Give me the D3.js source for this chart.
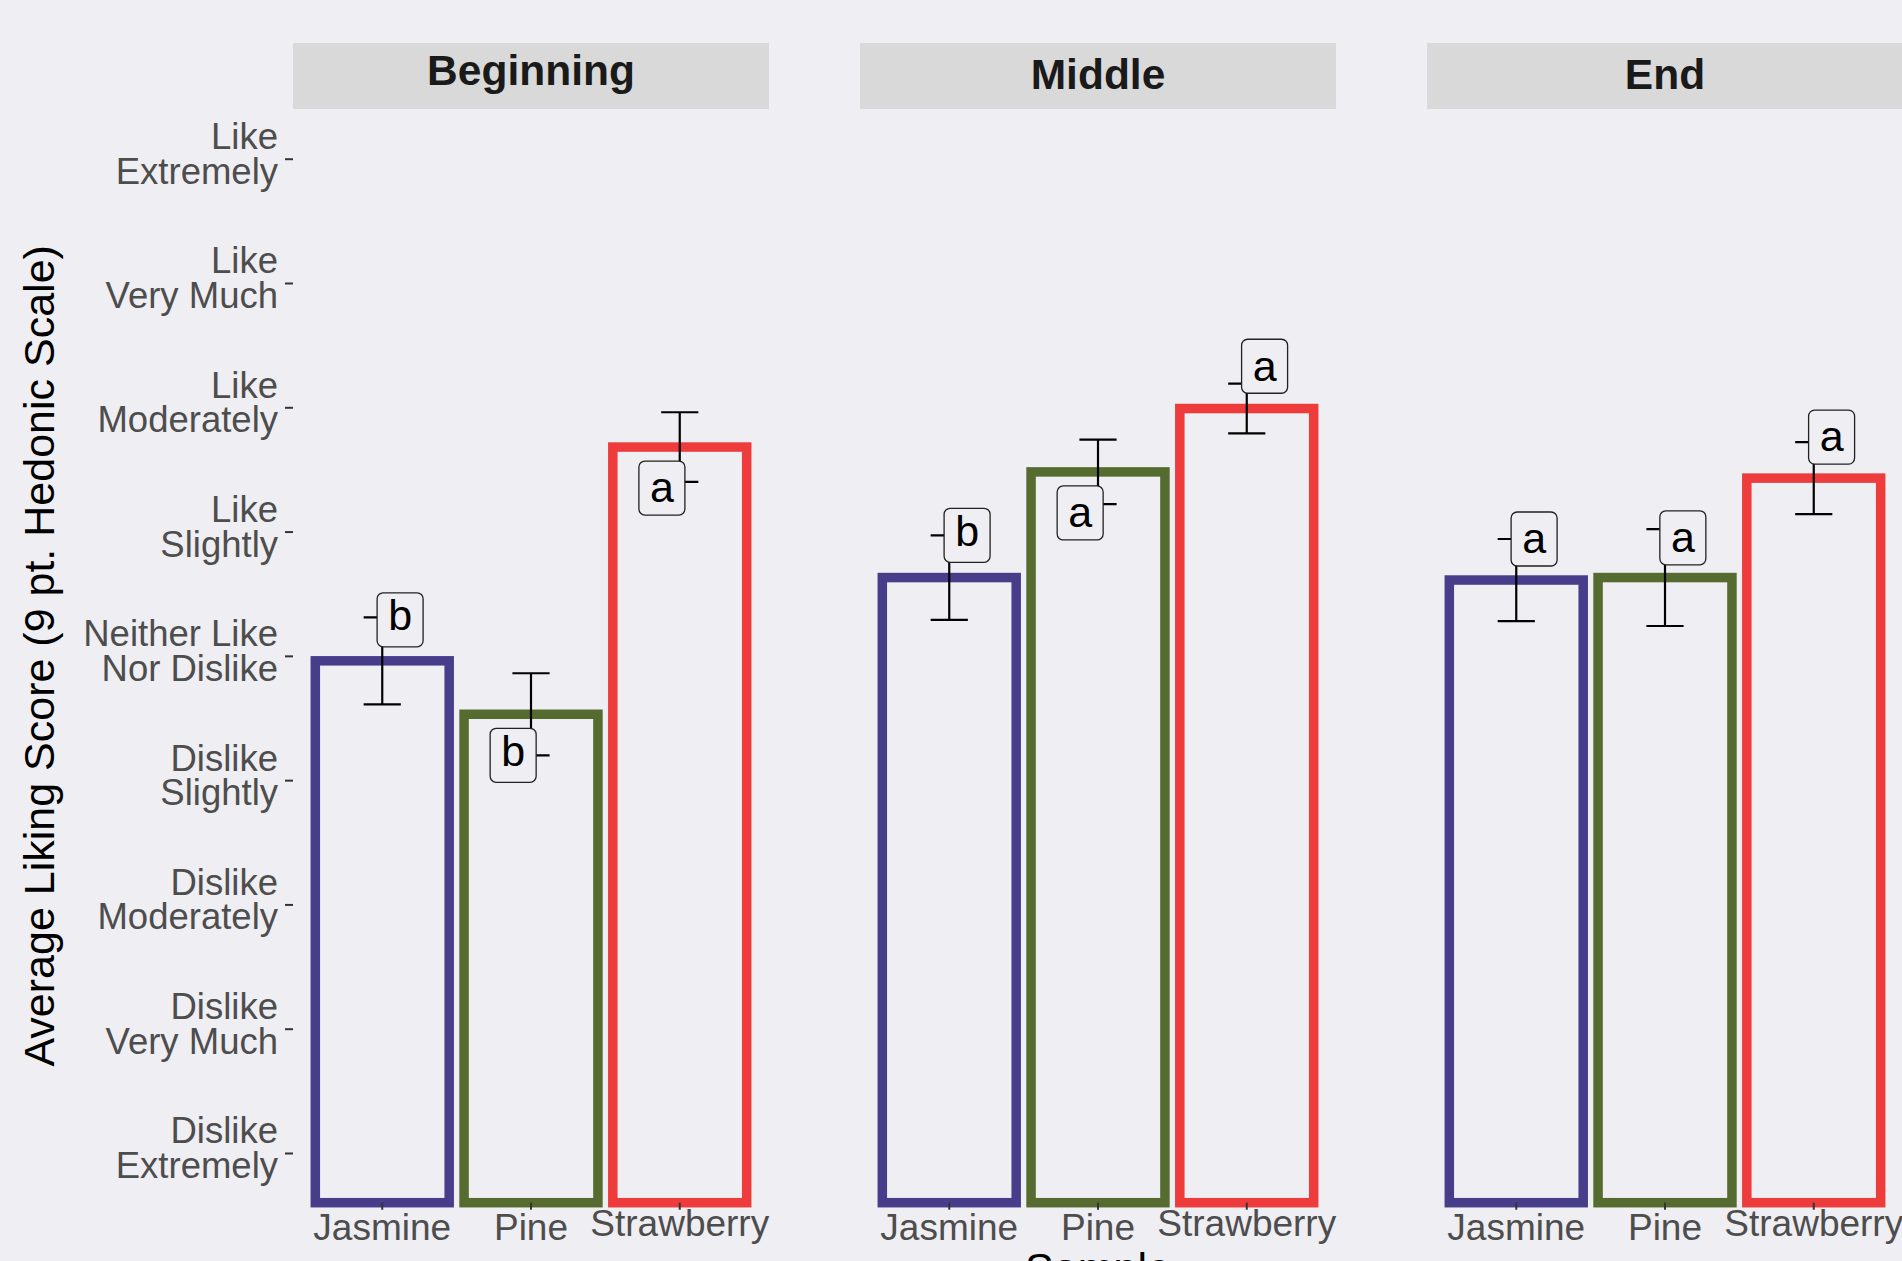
<!DOCTYPE html>
<html><head><meta charset="utf-8">
<script src="https://cdn.jsdelivr.net/npm/d3@7"></script>
<style>html,body{margin:0;padding:0;background:#EFEEF3;overflow:hidden}</style>
</head><body><svg id="chart" width="1902" height="1261"></svg>
<script>
// ---------------- data ----------------
const phases = ["Beginning", "Middle", "End"];
const samples = ["Jasmine", "Pine", "Strawberry"];
const sampleColors = ["#483D8B", "#556B2F", "#EE3B3B"];
const tickValues = [1, 2, 3, 4, 5, 6, 7, 8, 9];
const tickLabels = [
  "Dislike\nExtremely", "Dislike\nVery Much", "Dislike\nModerately", "Dislike\nSlightly",
  "Neither Like\nNor Dislike", "Like\nSlightly", "Like\nModerately", "Like\nVery Much", "Like\nExtremely"
];
const meanBeginning = [4.96, 4.53, 6.68];
const meanMiddle    = [5.63, 6.48, 6.99];
const meanEnd       = [5.61, 5.63, 6.43];
const seBeginning   = [0.35, 0.33, 0.28];
const seMiddle      = [0.34, 0.26, 0.20];
const seEnd         = [0.33, 0.39, 0.29];
const lettersBeginning = ["b", "b", "a"];
const lettersMiddle    = ["b", "a", "a"];
const lettersEnd       = ["a", "a", "a"];
const labelYBeginning = [5.29, 4.20, 6.35];
const labelYMiddle    = [5.97, 6.15, 7.33];
const labelYEnd       = [5.94, 5.95, 6.76];
const labelSideBeginning = [1, -1, -1];
const labelSideMiddle    = [1, -1, 1];
const labelSideEnd       = [1, 1, 1];
const yTitle = "Average Liking Score (9 pt. Hedonic Scale)";
const xTitle = "Sample";

const means = [meanBeginning, meanMiddle, meanEnd];
const ses = [seBeginning, seMiddle, seEnd];
const letters = [lettersBeginning, lettersMiddle, lettersEnd];
const labelYs = [labelYBeginning, labelYMiddle, labelYEnd];
const labelSides = [labelSideBeginning, labelSideMiddle, labelSideEnd];

// ---------------- layout ----------------
const W = 1902, H = 1261;
const BG = "#EFEEF3";
const FONT = "'Liberation Sans', Arial, Helvetica, sans-serif";
const panelTop = 109, panelBottom = 1202.7;
const stripTop = 43, stripH = 66;

const svg = d3.select("#chart");
svg.append("rect").attr("width", W).attr("height", H).attr("fill", BG);

const ctx = document.createElement("canvas").getContext("2d");
function ink(text, font) {
  ctx.font = font;
  const m = ctx.measureText(text);
  return { a: m.actualBoundingBoxAscent, d: m.actualBoundingBoxDescent };
}
// baseline so that the ink box is centered on c
function inkCenteredBaseline(text, font, c) {
  const m = ink(text, font);
  return c + (m.a - m.d) / 2;
}

const panelX = d3.scaleBand().domain(phases).range([293, 1903]).paddingInner(0.1605).paddingOuter(0);
const y = d3.scaleLinear().domain([0.6, 9.4]).range([panelBottom, panelTop]);

phases.forEach((ph, pi) => {
  const g = svg.append("g").attr("transform", `translate(${panelX(ph)},0)`);
  const pw = panelX.bandwidth();

  // strip
  g.append("rect").attr("x", 0).attr("y", stripTop).attr("width", pw).attr("height", stripH).attr("fill", "#D9D9D9");
  const sFont = `bold 42.5px ${FONT}`;
  g.append("text").attr("x", pw / 2).attr("y", inkCenteredBaseline(ph, sFont, 73.5))
    .attr("text-anchor", "middle").style("font", sFont).attr("fill", "#1A1A1A").text(ph);

  const x = d3.scaleBand().domain(samples).range([0, pw]).paddingInner(0.1).paddingOuter(0.15);
  const step = x.step();

  const rows = samples.map((s, i) => ({
    s, i, mean: means[pi][i], se: ses[pi][i], letter: letters[pi][i],
    ly: labelYs[pi][i], side: labelSides[pi][i], color: sampleColors[i]
  }));

  // bars
  g.selectAll("rect.bar").data(rows).join("rect").attr("class", "bar")
    .attr("x", d => x(d.s)).attr("width", x.bandwidth())
    .attr("y", d => y(d.mean)).attr("height", d => y(0.6) - y(d.mean))
    .attr("fill", "none").attr("stroke", d => d.color).attr("stroke-width", 9.5);

  // error bars
  const eb = g.selectAll("g.eb").data(rows).join("g").attr("class", "eb")
    .attr("transform", d => `translate(${x(d.s) + x.bandwidth() / 2},0)`);
  const capW = 0.25 * step / 2;
  eb.append("line").attr("x1", 0).attr("x2", 0)
    .attr("y1", d => y(d.mean - d.se)).attr("y2", d => y(d.mean + d.se));
  eb.append("line").attr("x1", -capW).attr("x2", capW)
    .attr("y1", d => y(d.mean + d.se)).attr("y2", d => y(d.mean + d.se));
  eb.append("line").attr("x1", -capW).attr("x2", capW)
    .attr("y1", d => y(d.mean - d.se)).attr("y2", d => y(d.mean - d.se));
  eb.selectAll("line").attr("stroke", "#000").attr("stroke-width", 2.2);

  // letter labels
  const lFont = `43px ${FONT}`;
  const lab = g.selectAll("g.lab").data(rows).join("g").attr("class", "lab")
    .attr("transform", d => `translate(${x(d.s) + x.bandwidth() / 2 + d.side * 0.12 * step},${y(d.ly)})`);
  lab.append("rect").attr("x", -23).attr("y", -27).attr("width", 46).attr("height", 54)
    .attr("rx", 6).attr("ry", 6).attr("fill", BG).attr("stroke", "#222").attr("stroke-width", 1.3);
  lab.append("text").attr("text-anchor", "middle").style("font", lFont).attr("fill", "#000")
    .attr("y", d => 0.6 * 43 - ink(d.letter, lFont).a / 2).text(d => d.letter);

  // x axis
  const xa = g.append("g").attr("transform", `translate(0,${panelBottom})`)
    .call(d3.axisBottom(x).tickSize(7).tickSizeOuter(0));
  xa.select(".domain").remove();
  xa.selectAll(".tick line").attr("stroke", "#333").attr("stroke-width", 2);
  const xFont = `37px ${FONT}`;
  xa.selectAll(".tick text").attr("dy", null).style("font", xFont).attr("fill", "#4D4D4D")
    .attr("y", d => inkCenteredBaseline(d, xFont, 1226.5 - panelBottom));

  // y axis on first panel only
  if (pi === 0) {
    const ya = g.append("g").call(d3.axisLeft(y).tickValues(tickValues).tickSize(8).tickFormat(""));
    ya.select(".domain").remove();
    ya.selectAll(".tick line").attr("stroke", "#333").attr("stroke-width", 2);
    const yFont = `36.5px ${FONT}`;
    ya.selectAll(".tick").each(function (d) {
      const lines = tickLabels[tickValues.indexOf(d)].split("\n");
      const t = d3.select(this).append("text").attr("text-anchor", "end")
        .style("font", yFont).attr("fill", "#4D4D4D");
      t.append("tspan").attr("x", -15).attr("y", -10).text(lines[0]);
      t.append("tspan").attr("x", -15).attr("y", 24.5).text(lines[1]);
    });
  }
});

// axis titles
const tFont = `43px ${FONT}`;
svg.append("text").attr("transform", `translate(53.5,${(panelTop + panelBottom) / 2}) rotate(-90)`)
  .attr("text-anchor", "middle").style("font", tFont).attr("fill", "#000").text(yTitle);
svg.append("text").attr("x", (293 + 1903) / 2).attr("y", 1283)
  .attr("text-anchor", "middle").style("font", tFont).attr("fill", "#000").text(xTitle);
</script>
</body></html>
